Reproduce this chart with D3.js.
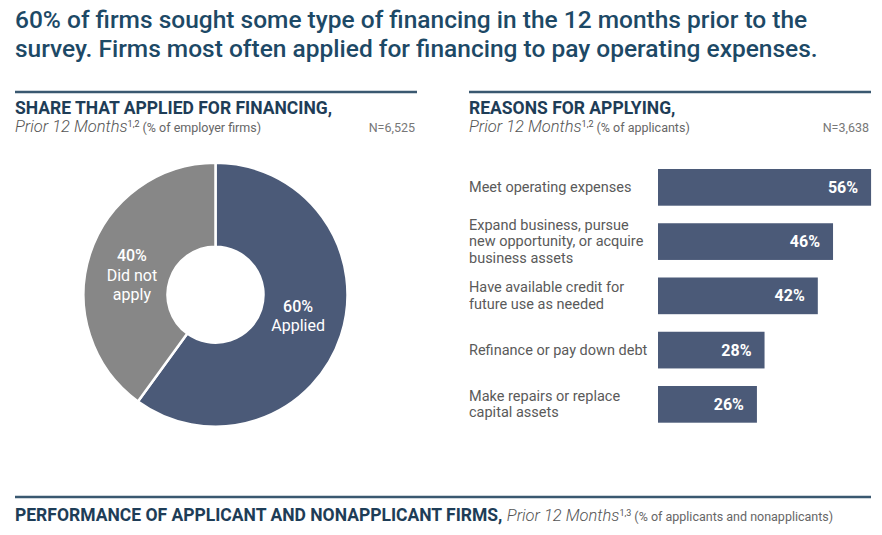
<!DOCTYPE html>
<html>
<head>
<meta charset="utf-8">
<script src="https://cdn.jsdelivr.net/npm/d3@7"></script>
<style>
  html, body { margin: 0; padding: 0; background: #fff; }
  svg { display: block; font-family: Roboto, "Noto Sans", sans-serif; }
</style>
</head>
<body>
<svg id="chart" width="882" height="535"></svg>
<script>
// ---- data ----
const titleLines = [
  "60% of firms sought some type of financing in the 12 months prior to the",
  "survey. Firms most often applied for financing to pay operating expenses."
];
const donutLabels = ["Applied", "Did not apply"];
const donutValues = [60, 40];
const reasonCategories = [
  "Meet operating expenses",
  "Expand business, pursue new opportunity, or acquire business assets",
  "Have available credit for future use as needed",
  "Refinance or pay down debt",
  "Make repairs or replace capital assets"
];
const reasonLabelLines = [
  ["Meet operating expenses"],
  ["Expand business, pursue", "new opportunity, or acquire", "business assets"],
  ["Have available credit for", "future use as needed"],
  ["Refinance or pay down debt"],
  ["Make repairs or replace", "capital assets"]
];
const reasonValues = [56, 46, 42, 28, 26];

// ---- styles ----
const C = {
  title: "#1d4966",
  head: "#1e3d57",
  rule: "#3a5870",
  sub: "#666666",
  label: "#5a5a5a",
  blue: "#4b5a78",
  gray: "#878787"
};

const svg = d3.select("#chart");

// Title
const title = svg.append("text")
  .attr("x", 15).attr("fill", C.title)
  .style("font-size", "24.5px").style("font-weight", 500);
titleLines.forEach((t, i) => {
  title.append("tspan").attr("x", 15).attr("y", 28 + i * 29).text(t);
});

function subtitle(t, sub, sup, paren) {
  t.append("tspan").attr("fill", "#555").style("font-size", "16.5px")
    .style("font-style", "italic").style("font-weight", 300).text(sub);
  t.append("tspan").attr("fill", "#555").style("font-size", "9px").attr("dy", -5).text(sup);
  t.append("tspan").attr("fill", C.sub).style("font-size", "12.5px").attr("dy", 5).text("  " + paren);
}

// Panel header helper
function header(x0, x1, ruleY, bold, sub, paren, n) {
  svg.append("line").attr("x1", x0).attr("x2", x1).attr("y1", ruleY).attr("y2", ruleY)
    .attr("stroke", C.rule).attr("stroke-width", 2.5);
  svg.append("text").attr("x", x0).attr("y", ruleY + 21.5)
    .attr("fill", C.head).style("font-size", "17.5px").style("font-weight", 700)
    .text(bold);
  const t = svg.append("text").attr("x", x0).attr("y", ruleY + 40);
  subtitle(t, sub, "1,2", paren);
  svg.append("text").attr("x", x1 - 2).attr("y", ruleY + 40).attr("text-anchor", "end")
    .attr("fill", "#777").style("font-size", "12.5px").text(n);
}
header(15, 417, 92, "SHARE THAT APPLIED FOR FINANCING,", "Prior 12 Months", "(% of employer firms)", "N=6,525");
header(469, 871, 92, "REASONS FOR APPLYING,", "Prior 12 Months", "(% of applicants)", "N=3,638");

// Donut
const cx = 215.5, cy = 294.7, rOuter = 132, rInner = 48;
const pie = d3.pie().sort(null).value(d => d)(donutValues);
const arc = d3.arc().innerRadius(rInner).outerRadius(rOuter);
const labelArc = d3.arc().innerRadius((rInner + rOuter) / 2).outerRadius((rInner + rOuter) / 2);
const donutColors = [C.blue, C.gray];
const g = svg.append("g").attr("transform", `translate(${cx},${cy})`);
g.selectAll("path").data(pie).join("path")
  .attr("d", arc)
  .attr("fill", (d, i) => donutColors[i])
  .attr("stroke", "#fff").attr("stroke-width", 2.5);
const donutTextLines = [
  [donutValues[0] + "%", "Applied"],
  [donutValues[1] + "%", "Did not", "apply"]
];
const donutOffsets = [[-3, -6], [2, 9]];
pie.forEach((d, i) => {
  const [lx, ly] = labelArc.centroid(d);
  const lines = donutTextLines[i];
  const lh = 19.5;
  const startY = ly + donutOffsets[i][1] - (lines.length - 1) * lh / 2 + 5;
  const t = g.append("text").attr("text-anchor", "middle").attr("fill", "#fff")
    .style("font-size", "16px");
  lines.forEach((s, j) => {
    t.append("tspan").attr("x", lx + donutOffsets[i][0]).attr("y", startY + j * lh)
      .style("font-weight", j === 0 ? 500 : 400).text(s);
  });
});

// Bars
const barX0 = 658;
const x = d3.scaleLinear().domain([0, 100]).range([0, 380.5]);
const y = d3.scaleBand().domain(reasonCategories).range([169, 422.7]).paddingInner(0.3235).paddingOuter(0);
svg.append("g").selectAll("rect").data(reasonCategories).join("rect")
  .attr("x", barX0)
  .attr("y", d => y(d))
  .attr("width", (d, i) => x(reasonValues[i]))
  .attr("height", y.bandwidth())
  .attr("fill", C.blue);
svg.append("g").selectAll("text").data(reasonCategories).join("text")
  .attr("x", (d, i) => barX0 + x(reasonValues[i]) - 13)
  .attr("y", d => y(d) + y.bandwidth() / 2 + 5.5)
  .attr("text-anchor", "end").attr("fill", "#fff")
  .style("font-size", "16px").style("font-weight", 700)
  .text((d, i) => reasonValues[i] + "%");
reasonCategories.forEach((c, i) => {
  const lines = reasonLabelLines[i];
  const lh = 16.5;
  const mid = y(c) + y.bandwidth() / 2;
  const t = svg.append("text").attr("fill", C.label).style("font-size", "14.5px");
  lines.forEach((s, j) => {
    t.append("tspan").attr("x", 469)
      .attr("y", mid + 4.5 + (j - (lines.length - 1) / 2) * lh).text(s);
  });
});

// Bottom section header
svg.append("line").attr("x1", 15).attr("x2", 871).attr("y1", 497).attr("y2", 497)
  .attr("stroke", C.rule).attr("stroke-width", 2.5);
const bt = svg.append("text").attr("x", 15).attr("y", 521);
bt.append("tspan").attr("fill", C.head).style("font-size", "17.5px").style("font-weight", 700)
  .text("PERFORMANCE OF APPLICANT AND NONAPPLICANT FIRMS, ");
subtitle(bt, "Prior 12 Months", "1,3", "(% of applicants and nonapplicants)");
</script>
</body>
</html>
